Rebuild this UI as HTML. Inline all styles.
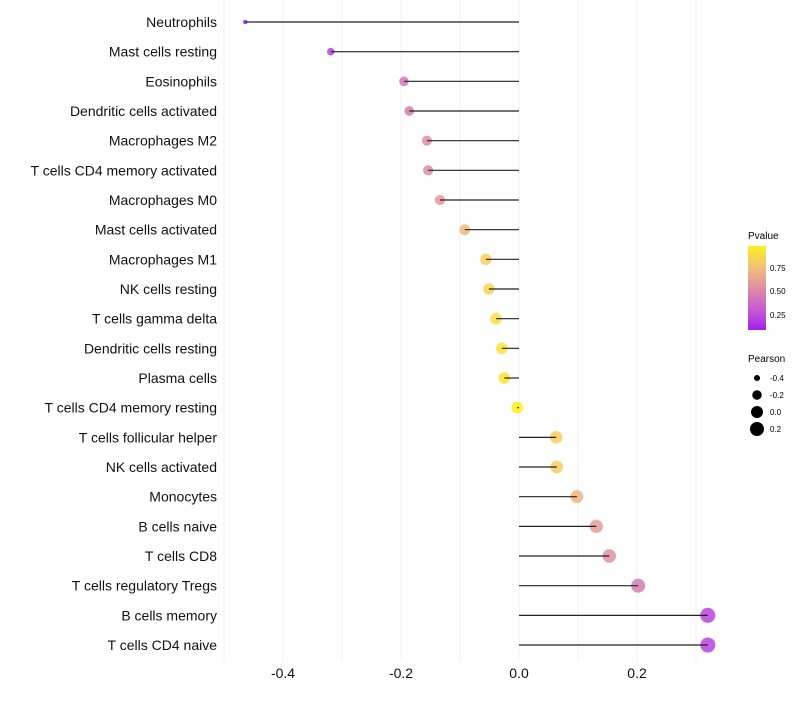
<!DOCTYPE html>
<html><head><meta charset="utf-8"><style>
body{margin:0;background:#fff;font-family:"Liberation Sans",sans-serif}
</style></head><body>
<svg id="chart" width="800" height="700" xmlns="http://www.w3.org/2000/svg" font-family="Liberation Sans, sans-serif">
<g id="grid"></g>
<g id="points"></g>
<g id="stems"></g>
<g id="ylabels"></g>
<g id="xlabels"></g>
<g id="legend">
<defs><linearGradient id="pg" x1="0" y1="1" x2="0" y2="0">
<stop offset="0" stop-color="#a21ef0"/><stop offset="0.19" stop-color="#c050d8"/><stop offset="0.47" stop-color="#dc88a8"/><stop offset="0.75" stop-color="#f4c07a"/><stop offset="1" stop-color="#fff01a"/></linearGradient></defs>
<text x="748" y="239" font-size="10">Pvalue</text>
<rect x="748" y="246" width="18" height="84" fill="url(#pg)"/>
<text x="770" y="271" font-size="8">0.75</text>
<text x="770" y="294" font-size="8">0.50</text>
<text x="770" y="318" font-size="8">0.25</text>
<text x="748" y="362" font-size="10">Pearson</text>
<g id="sizeleg"></g>
</g>
</svg>
<script>
const cells=["Neutrophils","Mast cells resting","Eosinophils","Dendritic cells activated","Macrophages M2","T cells CD4 memory activated","Macrophages M0","Mast cells activated","Macrophages M1","NK cells resting","T cells gamma delta","Dendritic cells resting","Plasma cells","T cells CD4 memory resting","T cells follicular helper","NK cells activated","Monocytes","B cells naive","T cells CD8","T cells regulatory  Tregs ","B cells memory","T cells CD4 naive"];
const pearson=[-0.464,-0.319,-0.195,-0.186,-0.156,-0.154,-0.134,-0.092,-0.056,-0.051,-0.039,-0.029,-0.025,-0.003,0.063,0.064,0.098,0.131,0.153,0.202,0.320,0.320];
const pvalue=[0.08,0.20,0.42,0.44,0.52,0.52,0.58,0.72,0.82,0.84,0.88,0.90,0.91,0.97,0.82,0.81,0.70,0.60,0.54,0.45,0.21,0.21];
const xTicks=[-0.4,-0.2,0.0,0.2];
const sizeTicks=[-0.4,-0.2,0.0,0.2];
const NS="http://www.w3.org/2000/svg";
const X=v=>519+v*590, Y=i=>22+i*29.667;
const vmin=-0.464,vmax=0.32;
const R=v=>Math.sqrt(5+Math.max(0,(v-vmin)/(vmax-vmin))*52);
const stops=[[0.08,[162,30,240]],[0.25,[192,80,216]],[0.5,[220,136,168]],[0.75,[244,192,122]],[0.97,[255,240,26]]];
function col(p){if(p<=stops[0][0])return stops[0][1];for(let i=1;i<stops.length;i++){if(p<=stops[i][0]){const a=stops[i-1],b=stops[i],t=(p-a[0])/(b[0]-a[0]);return a[1].map((c,k)=>Math.round(c+(b[1][k]-c)*t));}}return stops[stops.length-1][1];}
function mk(t,a,parent){const e=document.createElementNS(NS,t);for(const k in a)e.setAttribute(k,a[k]);document.getElementById(parent).appendChild(e);return e;}
for(let v=-0.5;v<=0.351;v+=0.1){const g=mk('line',{x1:X(v),x2:X(v),y1:0,y2:662,stroke:'#f0f0f0','stroke-width':1},'grid');

}
xTicks.forEach(v=>{const t=mk('text',{x:X(v),y:678,'font-size':14,'text-anchor':'middle',fill:'#111'},'xlabels');t.textContent=v.toFixed(1);

});
cells.forEach((c,i)=>{
const cc=col(pvalue[i]);
const p=mk('circle',{cx:X(pearson[i]),cy:Y(i),r:R(pearson[i]),fill:`rgb(${cc})`,'fill-opacity':0.85},'points');


const l=mk('line',{x1:X(0),x2:X(pearson[i]),y1:Y(i),y2:Y(i),stroke:'#222','stroke-width':1.2},'stems');


const t=mk('text',{x:217,y:Y(i)+5,'font-size':14,'text-anchor':'end',fill:'#111'},'ylabels');t.textContent=c;


});
sizeTicks.forEach((v,i)=>{const y=378+i*17;
const c=mk('circle',{cx:757,cy:y,r:R(v)*1.0,fill:'#000'},'sizeleg');


const t=mk('text',{x:770,y:y+3,'font-size':8},'sizeleg');t.textContent=v.toFixed(1);

});
</script>
</body></html>
